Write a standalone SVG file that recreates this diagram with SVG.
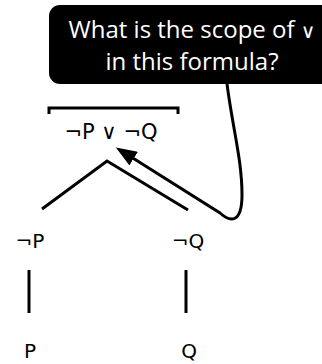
<svg xmlns="http://www.w3.org/2000/svg" width="322" height="364" viewBox="0 0 322 364">
<style>
.t{font-family:"DejaVu Sans","Liberation Sans",sans-serif;fill:#000;font-size:20px;text-anchor:middle}
.c{font-family:"Open Sans","Liberation Sans",sans-serif;fill:#fff;font-size:24px;text-anchor:middle}
.s{font-family:"DejaVu Sans",sans-serif;font-size:20px}
.l{stroke:#000;stroke-width:3;fill:none;stroke-linecap:butt}
</style>
<defs>
<marker id="ah" viewBox="0 0 21 16" refX="1" refY="8" markerWidth="21" markerHeight="16" orient="auto" markerUnits="userSpaceOnUse">
<path d="M0,0 L21,8 L0,16 z" fill="#000"/>
</marker>
</defs>
<rect width="322" height="364" fill="#fff"/>
<g id="callout">
<rect x="49" y="5" width="290" height="79" rx="11" fill="#000"/>
<text class="c" x="192" y="38">What is the scope of <tspan class="s">∨</tspan></text>
<text class="c" x="192" y="70">in this formula?</text>
</g>
<g id="root">
<path class="l" d="M49,114 V108 H178 V114" stroke-width="2.5"/>
<text class="t" x="111" y="139" style="font-size:21px">¬P ∨ ¬Q</text>
</g>
<g id="notP"><text class="t" x="30" y="248">¬P</text></g>
<g id="notQ"><text class="t" x="188" y="248">¬Q</text></g>
<g id="P"><text class="t" x="30" y="358">P</text></g>
<g id="Q"><text class="t" x="189" y="358">Q</text></g>
<g id="connectors">
<path class="l" d="M42,209 L107,161 L188,210"/>
<path class="l" d="M29,270 V313"/>
<path class="l" d="M186,270 V313"/>
<path class="l" stroke-width="3.5" d="M227,84 C233,130 242,160 242,195 C242,224 230,222 220,213 L132.8,158.1" marker-end="url(#ah)"/>
</g>
</svg>
